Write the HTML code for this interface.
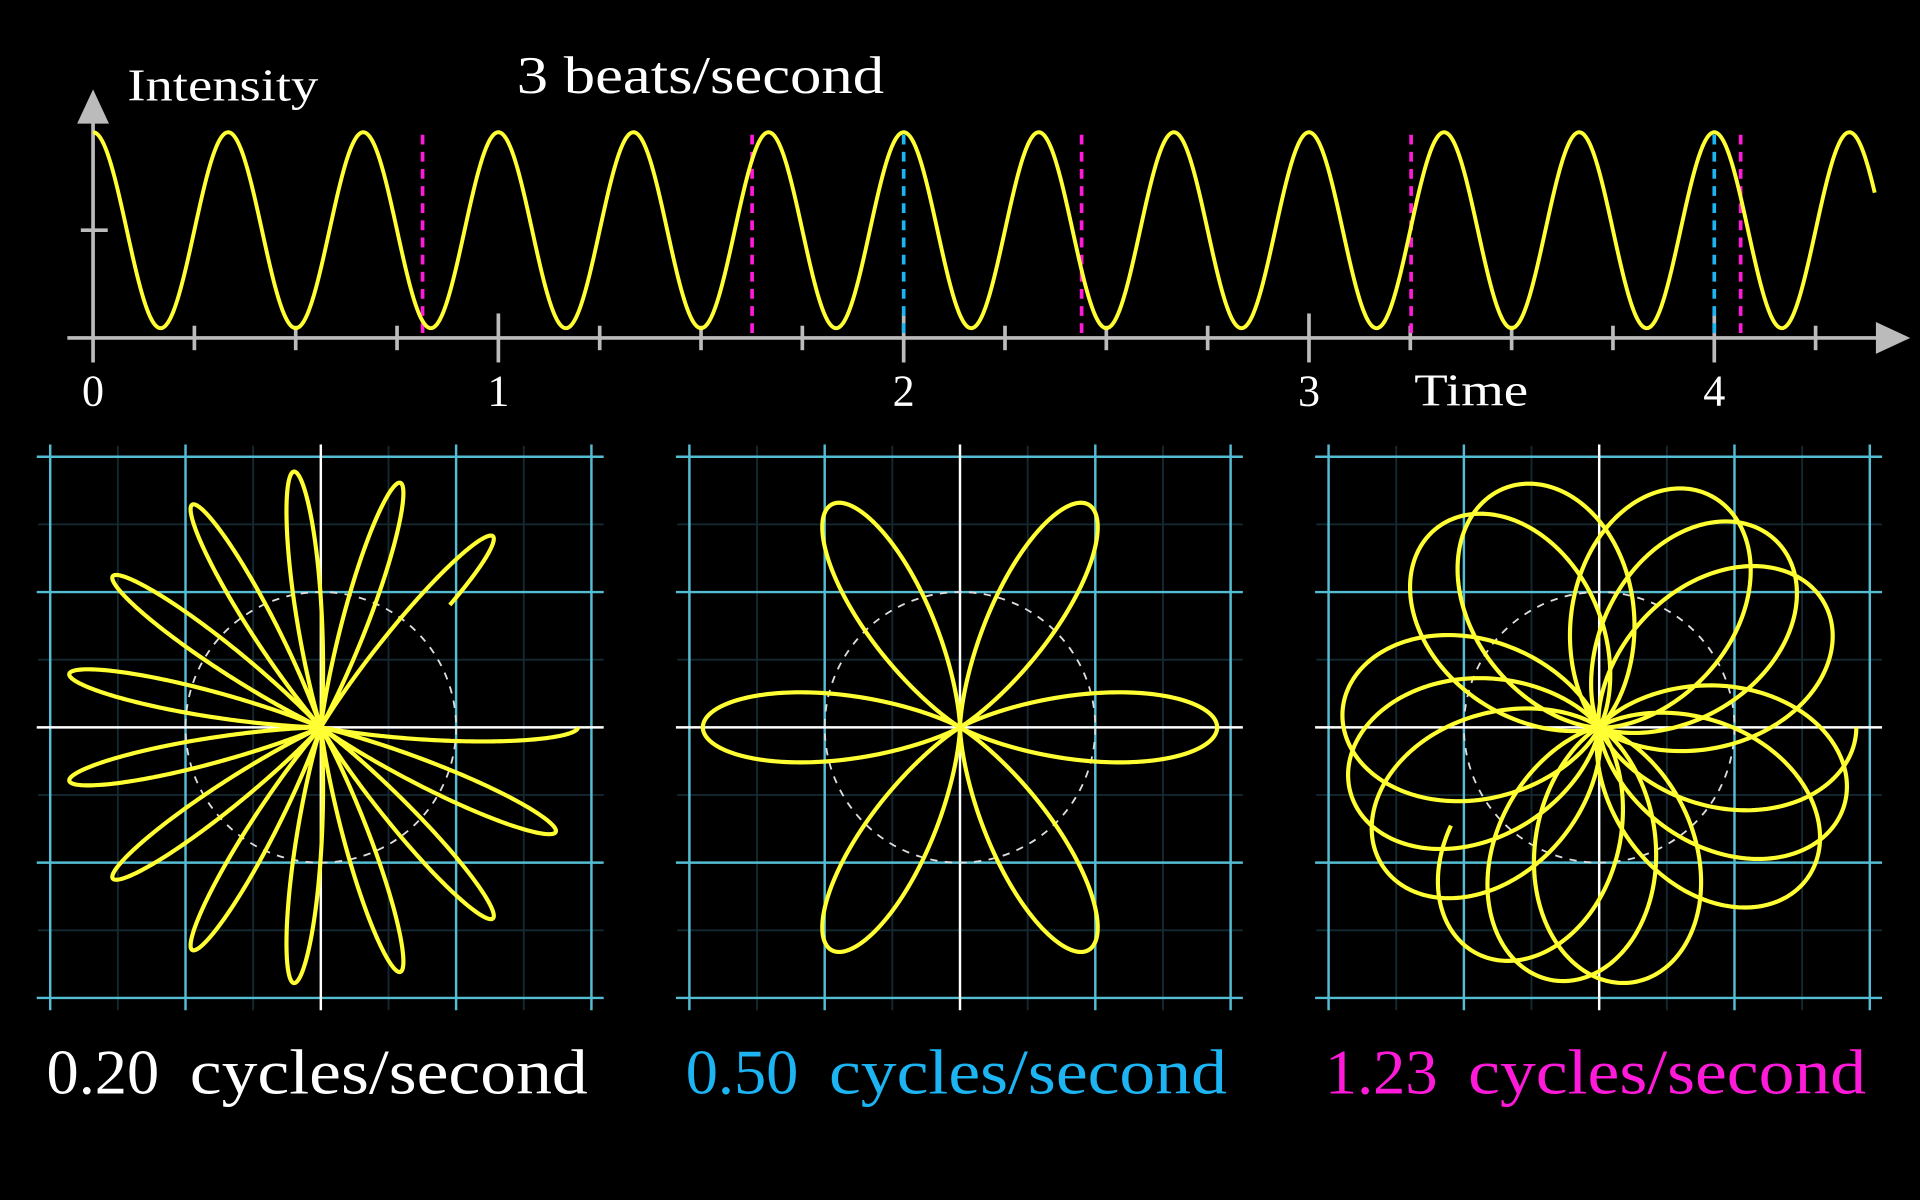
<!DOCTYPE html>
<html><head><meta charset="utf-8">
<style>
html,body{margin:0;padding:0;background:#000;}
svg{display:block;}
text{font-family:"Liberation Serif",serif;}
</style></head>
<body>
<svg id="chart" width="1920" height="1200" viewBox="0 0 1568 980" xmlns="http://www.w3.org/2000/svg">
<rect width="1568" height="980" fill="#000"/>
<g id="topGraph"></g>
<g id="panels"></g>
</svg>
<script>
const beatFreq = 3;
const duration = 4.3958;
const windFreqs = [0.20, 0.50, 1.23];
const windLabels = ["0.20", "0.50", "1.23"];
const windColors = ["#ffffff", "#1cb4f2", "#ff1ad9"];
const timeTicks = [0, 1, 2, 3, 4];
const markerFreqs = [1.23, 0.50];
const markerColors = ["#ff1ad9", "#1cb4f2"];

const NS = "http://www.w3.org/2000/svg";
function mk(tag, attrs, parent){const e=document.createElementNS(NS,tag);for(const k in attrs)e.setAttribute(k,attrs[k]);parent.appendChild(e);return e;}
function intensity(t){return 1+Math.cos(2*Math.PI*beatFreq*t);}

const topG = document.getElementById('topGraph');
const x0 = 76, pxPerSec = 331, yAxis = 276, yMid = 188, yAmp = 80;
const X = t => x0 + t*pxPerSec;
const Y = v => yMid - (v-1)*yAmp;

let e;
e = mk('line',{x1:55,y1:yAxis,x2:1535,y2:yAxis,stroke:'#bbb','stroke-width':3},topG);


e = mk('polygon',{points:'1560,276 1532,263 1532,289',fill:'#bbb'},topG);


e = mk('line',{x1:x0,y1:296,x2:x0,y2:98,stroke:'#bbb','stroke-width':3},topG);


e = mk('polygon',{points:'76,73 63,101 89,101',fill:'#bbb'},topG);


e = mk('line',{x1:66,y1:Y(1),x2:88,y2:Y(1),stroke:'#bbb','stroke-width':3},topG);



for(let q=1;q<=17;q++){
  const t=q/4; if(X(t)>1530) break;
  const major = q%4===0;
  e = mk('line',{x1:X(t),y1:major?256:266,x2:X(t),y2:major?296:286,stroke:'#bbb','stroke-width':3},topG);
  
  
}
timeTicks.forEach(t=>{
  e = mk('text',{x:X(t),y:331,fill:'#fff','font-size':36,'text-anchor':'middle'},topG);
  e.textContent = String(t);
  
  
});
e = mk('text',{x:1155,y:331,fill:'#fff','font-size':37,textLength:93,lengthAdjust:'spacingAndGlyphs'},topG);
e.textContent='Time';


e = mk('text',{x:104,y:82,fill:'#fff','font-size':37,textLength:156,lengthAdjust:'spacingAndGlyphs'},topG);
e.textContent='Intensity';


e = mk('text',{x:422,y:76,fill:'#fff','font-size':43,textLength:300,lengthAdjust:'spacingAndGlyphs'},topG);
e.textContent='3 beats/second';



markerFreqs.forEach((f,i)=>{
  const period = 1/f;
  for(let k=1; k*period<=duration; k++){
    const x = X(k*period);
    e = mk('line',{x1:x,y1:110,x2:x,y2:yAxis,stroke:markerColors[i],'stroke-width':3,'stroke-dasharray':'8,6'},topG);
    
    
  }
});

let d='';
const N=2000;
for(let i=0;i<=N;i++){const t=duration*i/N;d+=(i?'L':'M')+X(t).toFixed(2)+','+Y(intensity(t)).toFixed(2);}
e = mk('path',{d:d,fill:'none',stroke:'#ffff33','stroke-width':3.2},topG);



const panels = document.getElementById('panels');
const centers = [262, 784, 1306], cy = 594, unit = 110.5, rScale = 105;
windFreqs.forEach((f,pi)=>{
  const cx = centers[pi];
  const g = mk('g',{},panels);
  
  
  for(let k=-4;k<=4;k++){
    if(k%2===0) continue;
    const o=k*unit/2;
    mk('line',{x1:cx-231,y1:cy+o,x2:cx+231,y2:cy+o,stroke:'#142a32','stroke-width':1.5},g);
    mk('line',{x1:cx+o,y1:cy-230,x2:cx+o,y2:cy+231,stroke:'#142a32','stroke-width':1.5},g);
  }
  for(let k=-2;k<=2;k++){
    if(k===0) continue;
    const o=k*unit;
    e = mk('line',{x1:cx-232,y1:cy+o,x2:cx+231,y2:cy+o,stroke:'#55bdd3','stroke-width':2},g);
    
    
    e = mk('line',{x1:cx+o,y1:cy-231,x2:cx+o,y2:cy+231,stroke:'#55bdd3','stroke-width':2},g);
    
    
  }
  e = mk('line',{x1:cx-232,y1:cy,x2:cx+231,y2:cy,stroke:'#fff','stroke-width':2},g);
  
  
  e = mk('line',{x1:cx,y1:cy-231,x2:cx,y2:cy+231,stroke:'#fff','stroke-width':2},g);
  
  
  e = mk('circle',{cx:cx,cy:cy,r:unit,fill:'none',stroke:'#ddd','stroke-width':1.5,'stroke-dasharray':'6,6'},g);
  
  
  let p='';
  const M=3000;
  for(let i=0;i<=M;i++){
    const t=duration*i/M, r=rScale*intensity(t), a=2*Math.PI*f*t;
    p+=(i?'L':'M')+(cx+r*Math.cos(a)).toFixed(2)+','+(cy+r*Math.sin(a)).toFixed(2);
  }
  e = mk('path',{d:p,fill:'none',stroke:'#ffff33','stroke-width':3.4,'stroke-linejoin':'round'},g);
  
  
  const lx = cx-224;
  e = mk('text',{x:lx,y:893,fill:windColors[pi],'font-size':52,textLength:92,lengthAdjust:'spacingAndGlyphs'},g);
  e.textContent = windLabels[pi];
  
  
  e = mk('text',{x:lx+117,y:893,fill:windColors[pi],'font-size':52,textLength:325,lengthAdjust:'spacingAndGlyphs'},g);
  e.textContent = 'cycles/second';
  
  
});
</script>
</body></html>
